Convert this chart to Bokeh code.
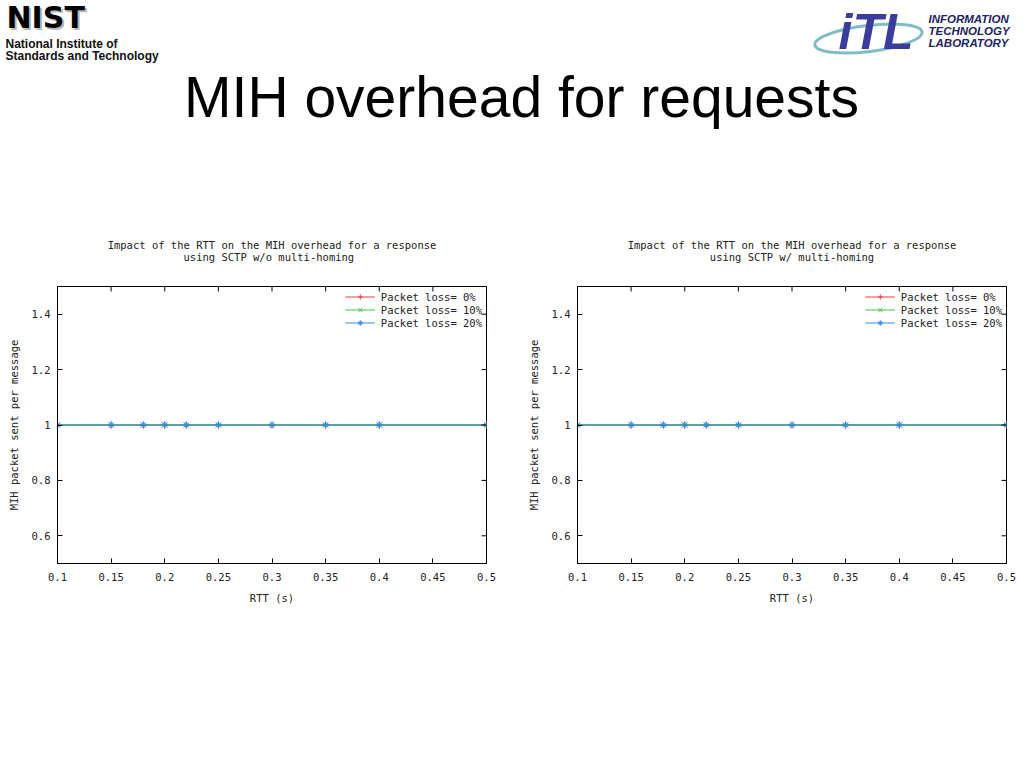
import math
from bokeh.plotting import figure
from bokeh.layouts import column, row
from bokeh.models import (Range1d, FixedTicker, Legend, LegendItem,
                          CustomJSTickFormatter)
from bokeh.core.properties import value
from bokeh.embed import file_html
from bokeh.resources import INLINE

# ---------------- data ----------------
slide_title = "MIH overhead for requests"
chart_title_line1 = "Impact of the RTT on the MIH overhead for a response"
chart_title_line2 = ["using SCTP w/o multi-homing", "using SCTP w/ multi-homing"]
x_label = "RTT (s)"
y_label = "MIH packet sent per message"

rtt = [0.1, 0.15, 0.18, 0.2, 0.22, 0.25, 0.3, 0.35, 0.4, 0.5]
# chart 1: SCTP w/o multi-homing
wo_loss_0 = [1, 1, 1, 1, 1, 1, 1, 1, 1, 1]
wo_loss_10 = [1, 1, 1, 1, 1, 1, 1, 1, 1, 1]
wo_loss_20 = [1, 1, 1, 1, 1, 1, 1, 1, 1, 1]
# chart 2: SCTP w/ multi-homing
w_loss_0 = [1, 1, 1, 1, 1, 1, 1, 1, 1, 1]
w_loss_10 = [1, 1, 1, 1, 1, 1, 1, 1, 1, 1]
w_loss_20 = [1, 1, 1, 1, 1, 1, 1, 1, 1, 1]

series_labels = ["Packet loss= 0%", "Packet loss= 10%", "Packet loss= 20%"]
series_colors = ["#ee3b3b", "#3cc03c", "#2f8ae8"]
series_markers = ["cross", "x", "asterisk"]

x_ticks = [0.1, 0.15, 0.2, 0.25, 0.3, 0.35, 0.4, 0.45, 0.5]
x_tick_labels = ["0.1", "0.15", "0.2", "0.25", "0.3", "0.35", "0.4", "0.45", "0.5"]
y_ticks = [0.6, 0.8, 1.0, 1.2, 1.4]
y_tick_labels = ["0.6", "0.8", "1", "1.2", "1.4"]

X_MIN, X_MAX = 0.1, 0.5
Y_MIN, Y_MAX = 0.5, 1.5

MONO = "DejaVu Sans Mono"
FS = "10.5px"
TXT = "#222222"
NBSP = "\u00a0"

LOOKUP = ("let i=0,b=1e9;for(let k=0;k<tv.length;k++){const d=Math.abs(tv[k]-tick);"
          "if(d<b){b=d;i=k}}return tl[i];")


def centered_title(l1, l2):
    # monospace font: pad the shorter line so both lines are centred
    pad = (len(l1) - len(l2)) // 2
    return l1 + "\n" + NBSP * pad + l2


def style_axis(ax, ticks, labels, label_standoff, axis_standoff):
    ax.ticker = FixedTicker(ticks=ticks)
    ax.formatter = CustomJSTickFormatter(args=dict(tv=ticks, tl=labels), code=LOOKUP)
    ax.major_tick_in = 5
    ax.major_tick_out = 0
    ax.minor_tick_in = 0
    ax.minor_tick_out = 0
    ax.axis_line_color = "#000000"
    ax.major_tick_line_color = "#000000"
    ax.major_label_text_font = MONO
    ax.major_label_text_font_size = FS
    ax.major_label_text_color = TXT
    ax.major_label_standoff = label_standoff
    ax.axis_label_text_font = MONO
    ax.axis_label_text_font_size = FS
    ax.axis_label_text_font_style = "normal"
    ax.axis_label_text_color = TXT
    ax.axis_label_standoff = axis_standoff


def make_chart(line2, ys, border_left, border_right):
    p = figure(width=512, height=407, output_backend="svg", toolbar_location=None,
               x_range=Range1d(X_MIN, X_MAX), y_range=Range1d(Y_MIN, Y_MAX),
               min_border_left=border_left, min_border_right=border_right,
               min_border_top=66, min_border_bottom=56)
    p.xgrid.visible = False
    p.ygrid.visible = False
    p.outline_line_color = "#000000"

    p.title.text = centered_title(chart_title_line1, line2)
    p.title.align = "center"
    p.title.text_font = MONO
    p.title.text_font_size = FS
    p.title.text_font_style = "normal"
    p.title.text_color = TXT
    p.title.standoff = 48

    style_axis(p.xaxis[0], x_ticks, x_tick_labels, 9, 8)
    p.xaxis[0].axis_label = x_label
    style_axis(p.yaxis[0], y_ticks, y_tick_labels, 7, 9)
    p.yaxis[0].axis_label = y_label

    items = []
    for lab, col, mk, y in zip(series_labels, series_colors, series_markers, ys):
        ln = p.line(rtt, y, line_color=col, line_width=1)
        sc = p.scatter(rtt, y, marker=mk, size=7, line_color=col, fill_color=None, line_width=1)
        items.append(LegendItem(label=lab, renderers=[ln, sc]))

    # mirrored inward ticks on the top and right edges (gnuplot style);
    # dash markers centred on the border, the outer half is clipped by the frame
    p.scatter(x=x_ticks, y=[Y_MAX] * len(x_ticks), marker="dash", size=10,
              angle=math.pi / 2, line_color="#000000", line_width=1)
    p.scatter(x=[X_MAX] * len(y_ticks), y=y_ticks, marker="dash", size=10,
              line_color="#000000", line_width=1)

    leg = Legend(items=items, location="top_right")
    leg.border_line_color = None
    leg.background_fill_alpha = 0
    leg.label_text_font = MONO
    leg.label_text_font_size = FS
    leg.label_text_color = TXT
    leg.glyph_width = 30
    leg.glyph_height = 13
    leg.label_height = 13
    leg.spacing = 0
    leg.padding = 2
    leg.margin = 4
    leg.label_standoff = 6
    p.add_layout(leg)
    return p


left = make_chart(chart_title_line2[0], [wo_loss_0, wo_loss_10, wo_loss_20], 57, 26)
right = make_chart(chart_title_line2[1], [w_loss_0, w_loss_10, w_loss_20], 65, 18)

# ---------------- header (slide title and logos) ----------------
hdr = figure(width=1024, height=212, output_backend="svg", toolbar_location=None,
             x_range=Range1d(0, 1024), y_range=Range1d(212, 0),
             min_border=0, min_border_left=0, min_border_right=0,
             min_border_top=0, min_border_bottom=0)
hdr.axis.visible = False
hdr.grid.visible = False
hdr.outline_line_color = None

# NIST logo
hdr.text(x=[8], y=[36], text=["NIST"], text_font=value("DejaVu Sans"),
         text_font_size="30px", text_font_style="bold", text_color="#b8b8b8")
hdr.text(x=[6], y=[34], text=["NIST"], text_font=value("DejaVu Sans"),
         text_font_size="30px", text_font_style="bold", text_color="#000000")
hdr.text(x=[5, 5], y=[50, 62], text=["National Institute of", "Standards and Technology"],
         text_font=value("Liberation Sans"), text_font_size="12px",
         text_font_style="bold", text_color="#111111")

# ITL logo
hdr.ellipse(x=[868], y=[38], width=[108], height=[26], angle=[0.12],
            fill_color=None, line_color="#7fbcc4", line_width=3)
hdr.text(x=[838], y=[59], text=["iTL"], text_font=value("Liberation Sans"),
         text_font_size="50px", text_font_style="bold italic", text_color="#3a3d9e")
hdr.text(x=[928, 928, 928], y=[24, 36, 48],
         text=["INFORMATION", "TECHNOLOGY", "LABORATORY"],
         text_font=value("Liberation Sans"), text_font_size="11.5px",
         text_font_style="bold italic", text_color="#22245e")

# slide title
hdr.text(x=[521], y=[128], text=[slide_title], text_font=value("Liberation Sans"),
         text_font_size="57px", text_align="center", text_color="#000000")

page = column(hdr, row(left, right, spacing=0), spacing=0)
open("out.html", "w").write(file_html(page, INLINE))
